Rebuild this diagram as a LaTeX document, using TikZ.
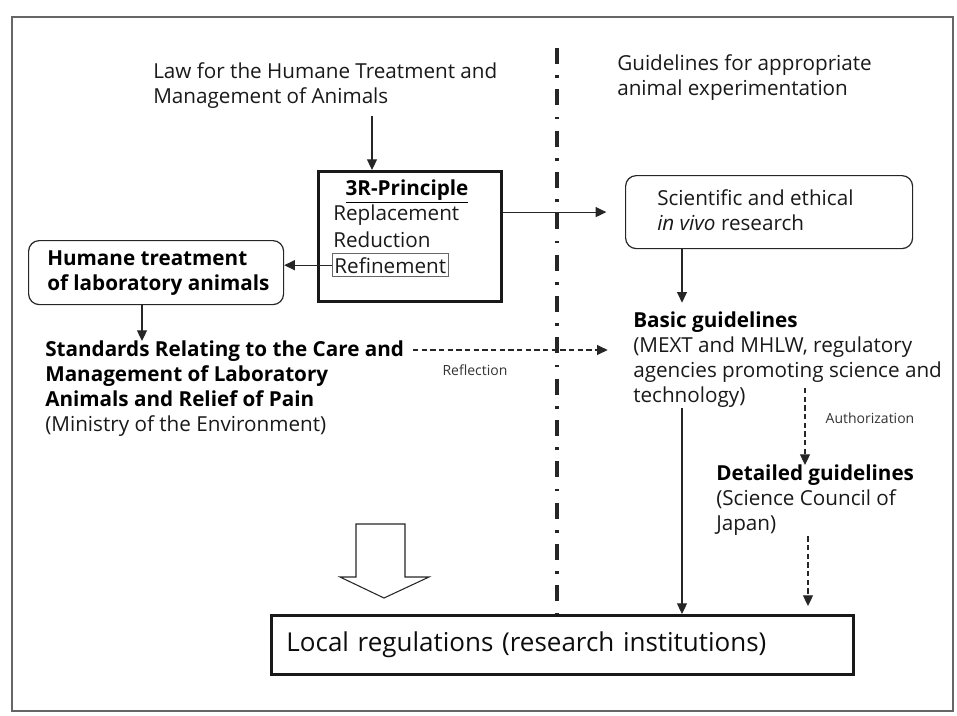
\documentclass[tikz,border=0pt]{standalone}
\usepackage{fontspec}
\setmainfont{Open Sans}
\usetikzlibrary{positioning, arrows.meta}
\newcommand{\mainsize}{\fontsize{15.5}{18.75}\selectfont}
\newcommand{\notesize}{\fontsize{10.5}{12}\selectfont}
\newcommand{\localsize}{\fontsize{19.5}{22}\selectfont}
\tikzset{
  txt/.style={inner sep=0pt, anchor=north west, align=left, font=\mainsize, text=black!90},
  boldtxt/.style={txt, font=\mainsize\bfseries, text=black},
  note/.style={inner sep=0pt, font=\notesize, text=black!80},
  roundbox/.style={rectangle, draw=black!85, rounded corners=8pt, line width=0.9pt, anchor=north west},
  thickbox/.style={rectangle, draw=black!90, line width=2.2pt, anchor=north west},
  arrow/.style={-{Triangle[length=8pt,width=7.5pt]}, line width=0.8pt, black!85},
  dasharrow/.style={arrow, dash pattern=on 4pt off 2.5pt},
  divider/.style={line width=2.4pt, black!85, dash pattern=on 12pt off 8.5pt on 2pt off 8.5pt},
  frame/.style={line width=0.8pt, black!60},
}

\begin{document}
\begin{tikzpicture}[x=0.75pt, y=-0.75pt]
  \useasboundingbox (0,0) rectangle (957,715);
  \draw[frame] (12,17) rectangle (953,711);

  % Headings of the two columns
  \node[txt] (law) at (153,62) {Law for the Humane Treatment and\\Management of Animals};
  \node[txt] (guide) at (617,54) {Guidelines for appropriate\\animal experimentation};

  % Boxes
  \node[thickbox, minimum width=137.25pt, minimum height=97.5pt] (threeR) at (317,170) {};
  \node[boldtxt, anchor=base] (rtitle) at (407,195) {\underline{3R-Principle}};
  \node[txt, anchor=base west] (repl) at (333,220) {Replacement};
  \node[txt, anchor=base west] (reduc) at (333,247) {Reduction};
  \node[txt, anchor=base west, draw=black!60, line width=0.6pt, inner xsep=1.5pt, inner ysep=2.5pt] (refine) at (332,273) {Refinement};

  \node[roundbox, minimum width=215.25pt, minimum height=54.75pt] (sci) at (625,175) {};
  \node[txt] (scitxt) at (657,189) {Scientific and ethical\\\textit{in vivo} research};

  \node[roundbox, minimum width=191.25pt, minimum height=48pt] (humane) at (28,240) {};
  \node[boldtxt] (humanetxt) at (47,250) {Humane treatment\\of laboratory animals};

  \node[txt] (stand) at (45,341) {\textbf{\color{black}Standards Relating to the Care and}\\\textbf{\color{black}Management of Laboratory}\\\textbf{\color{black}Animals and Relief of Pain}\\(Ministry of the Environment)};

  \node[txt] (basic) at (633,312) {\textbf{\color{black}Basic guidelines}\\(MEXT and MHLW, regulatory\\agencies promoting science and\\technology)};

  \node[txt] (detail) at (716,465) {\textbf{\color{black}Detailed guidelines}\\(Science Council of\\Japan)};

  \node[thickbox, minimum width=436.5pt, minimum height=44.25pt, inner xsep=11pt, text width=414pt, align=left, font=\localsize, text=black!95] (local) at (270,614) {Local regulations (research institutions)};

  % Helper points for the straight connectors
  \coordinate (lawx) at (372,0);
  \coordinate (hsx) at (142,0);
  \coordinate (sbx) at (682,0);
  \coordinate (dlx) at (808,0);
  \coordinate (refl) at (413,350);
  \coordinate (auth) at (805,388);
  \coordinate (divtop) at (557,48);

  % Dividing line
  \draw[divider] (divtop) -- (divtop |- local.north);

  % Arrows
  \draw[arrow, shorten <=6pt] (law.south -| lawx) -- (threeR.north -| lawx);
  \draw[arrow, shorten >=14pt] (threeR.east |- sci.west) -- (sci.west);
  \draw[arrow] (refine.west) -- (refine.west -| humane.east);
  \draw[arrow] (humane.south -| hsx) -- (stand.north -| hsx);
  \draw[arrow, shorten >=7pt] (sci.south -| sbx) -- (basic.north -| sbx);
  \draw[arrow] (basic.south -| sbx) -- (local.north -| sbx);

  \draw[dasharrow, shorten >=19pt] (refl) -- (refl -| basic.west);
  \node[note] (refllbl) at (475,370) {Reflection};
  \draw[dasharrow] (auth) -- (auth |- detail.north);
  \node[note] (authlbl) at (870,418) {Authorization};
  \draw[dasharrow, shorten >=6pt] (detail.south -| dlx) -- (local.north -| dlx);

  % Hollow arrow towards the local regulations
  \draw[line width=0.8pt, black!85, fill=white] (356,524) -- (405,524) -- (405,577) -- (429,577)
    -- (384,598) -- (340,577) -- (356,577) -- cycle;
\end{tikzpicture}
\end{document}
